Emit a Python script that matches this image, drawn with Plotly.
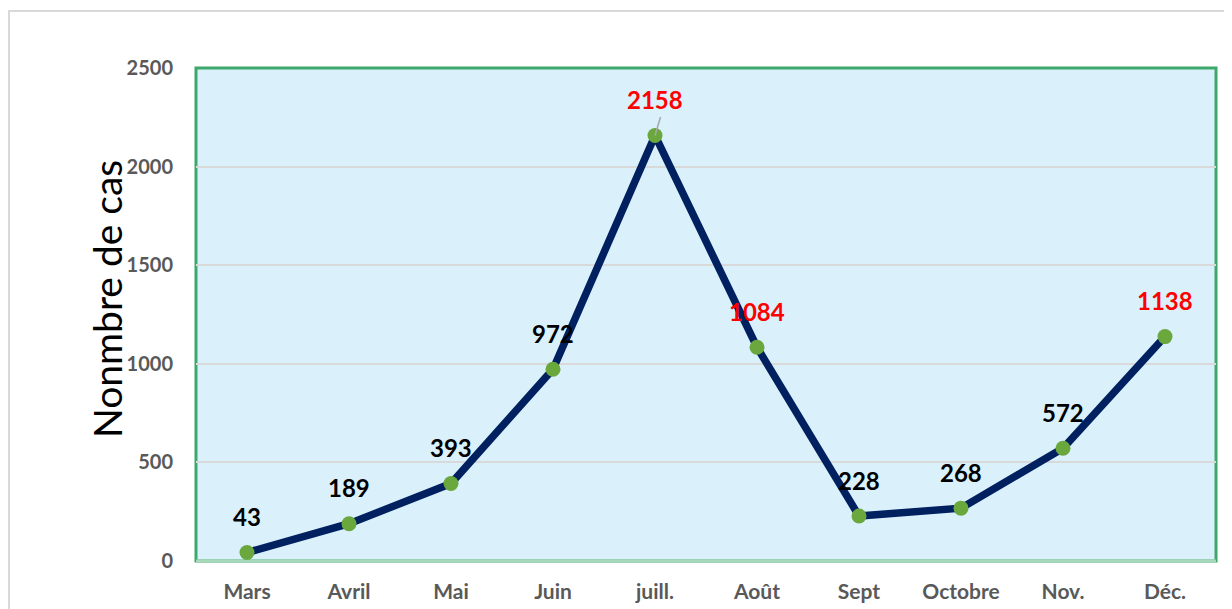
import plotly.graph_objects as go

months = ["Mars", "Avril", "Mai", "Juin", "juill.", "Août", "Sept", "Octobre", "Nov.", "Déc."]
cases = [43, 189, 393, 972, 2158, 1084, 228, 268, 572, 1138]
label_colors = ["black", "black", "black", "black", "red", "red", "black", "black", "black", "red"]
y_ticks = [0, 500, 1000, 1500, 2000, 2500]

FONT = "Lato, Open Sans, sans-serif"
L, T, PW, PH = 188, 60, 1020, 493

fig = go.Figure()
fig.add_trace(go.Scatter(
    x=months, y=cases, mode="lines+markers",
    line=dict(color="#002060", width=7.5),
    marker=dict(color="#6AA83E", size=15),
    cliponaxis=False, showlegend=False, hoverinfo="skip",
))

for m, v, c in zip(months, cases, label_colors):
    fig.add_annotation(x=m, y=v, text=f"<b>{v}</b>", showarrow=False,
                       yshift=36, font=dict(family=FONT, size=24, color=c))

# leader line for July label
fig.add_annotation(x="juill.", y=cases[4], ax=6, ay=-20, axref="pixel", ayref="pixel",
                   showarrow=True, arrowhead=0, arrowwidth=1.5, arrowcolor="#A6A6A6", text="",
                   standoff=0)

fig.update_layout(
    width=1224, height=601,
    margin=dict(l=L, r=1224 - L - PW, t=T, b=601 - T - PH, autoexpand=False),
    paper_bgcolor="white", plot_bgcolor="#DAF0FB",
    font=dict(family=FONT),
    xaxis=dict(type="category", range=[-0.5, 9.5], showgrid=False, zeroline=False,
               tickfont=dict(size=21, color="#595959", family=FONT, weight="bold"),
               ticks="", ticklabelstandoff=16, showline=False, automargin=False),
    yaxis=dict(range=[0, 2500], tickvals=y_ticks, showgrid=True, gridcolor="#D9D9D9", gridwidth=2,
               zeroline=False, ticks="", automargin=False,
               tickfont=dict(size=20, color="#595959", family=FONT, weight="bold"),
               ticklabelstandoff=22),
    shapes=[
        dict(type="rect", xref="paper", yref="paper", x0=(1 - L) / PW, x1=1.05,
             y0=-0.2, y1=(PH + T - 3) / PH,
             line=dict(color="#D9D9D9", width=2), layer="below"),
        dict(type="rect", xref="paper", yref="paper", x0=0, x1=1, y0=0, y1=1,
             line=dict(color="#3CA86C", width=3), layer="below"),
        dict(type="line", xref="paper", yref="paper", x0=0, x1=1, y0=0, y1=0,
             line=dict(color="#A8D8BA", width=3), layer="below"),
    ],
    annotations=list(fig.layout.annotations) + [
        dict(text="Nonmbre de cas", xref="paper", yref="paper", x=(107 - 8 - L) / PW, y=(PH - (299 - 8 - T)) / PH,
             textangle=-90, showarrow=False, xanchor="center", yanchor="middle",
             font=dict(size=39, color="black", family=FONT))
    ],
)

fig.write_html("out.html")
